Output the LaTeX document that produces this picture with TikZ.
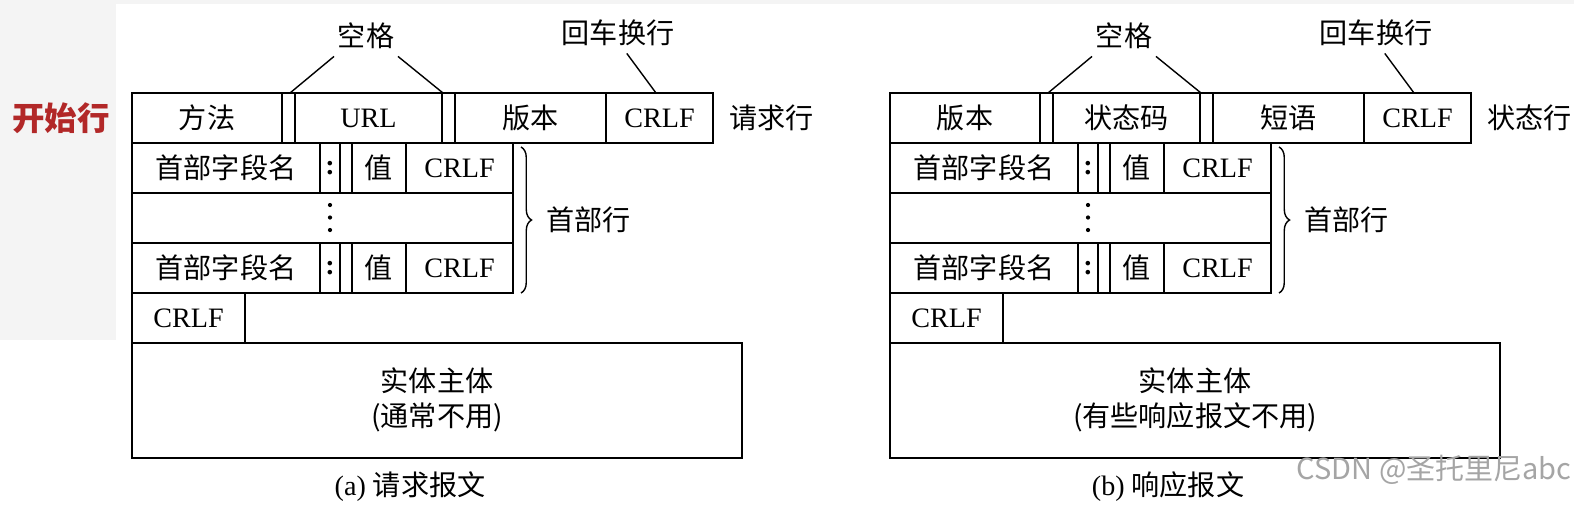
\documentclass[tikz,border=0pt]{standalone}
\usepackage{fontspec}
\setmainfont{Liberation Serif}
\newfontfamily\cjk{Noto Sans CJK SC}
\usetikzlibrary{decorations.pathreplacing}
\definecolor{startred}{RGB}{178,40,40}
\definecolor{bggray}{RGB}{244,244,244}
\definecolor{markgray}{RGB}{165,165,165}

\begin{document}
\begin{tikzpicture}[x=0.02cm,y=-0.02cm,
  outer/.style={line width=1.5pt},
  inner/.style={line width=0.9pt},
  lead/.style={line width=0.8pt},
  txt/.style={font=\fontsize{16}{20}\selectfont, inner sep=0pt},
  zh/.style={font=\fontsize{16}{20}\selectfont\cjk, inner sep=0pt}]
% background
\fill[bggray] (0,0) rectangle (116,340);
\fill[bggray] (0,0) rectangle (1574,4);
\useasboundingbox (0,0) rectangle (1574,505);
\node[txt, font=\fontsize{18.5}{22}\selectfont\cjk\bfseries, text=startred] (start) at (61,118) {开始行};

\foreach \pf/\dx/\fa/\fb/\fc/\side/\bodytxt/\capt in {
  a/0/{\cjk 方法}/{URL}/{\cjk 版本}/{请求行}/{通常不用}/{(a) {\cjk 请求报文}},
  b/758/{\cjk 版本}/{\cjk 状态码}/{\cjk 短语}/{状态行}/{有些响应报文不用}/{(b) {\cjk 响应报文}}}{
\begin{scope}[xshift=\dx*0.02cm]
% start line
\draw[outer] (132,93) rectangle (713,143);
\foreach \x in {282,295,442,455,606} \draw[inner] (\x,93) -- (\x,143);
\node[txt] (\pf-c1) at (207,118) {\fa};
\node[txt] (\pf-c2) at (368.5,118) {\fb};
\node[txt] (\pf-c3) at (530.5,118) {\fc};
\node[txt] (\pf-c4) at (659.5,118) {CRLF};
\node[zh, anchor=west] (\pf-side) at (729,118) {\side};
% space and CRLF callouts
\coordinate (\pf-g1) at (290,93);
\coordinate (\pf-g2) at (443,93);
\coordinate (\pf-g3) at (656,93);
\node[zh, inner xsep=2pt, inner ysep=4pt] (\pf-sp) at (366,36) {空格};
\node[zh, inner ysep=4pt] (\pf-cr) at (618,33) {回车换行};
\draw[lead] (\pf-sp.south west) -- (\pf-g1);
\draw[lead] (\pf-sp.south east) -- (\pf-g2);
\draw[lead] ([xshift=5pt]\pf-cr.south) -- (\pf-g3);
% header lines
\draw[outer] (132,143) rectangle (513,293);
\draw[outer] (132,193) -- (513,193) (132,243) -- (513,243);
\foreach \y/\n in {143/1,243/3}{
  \foreach \x in {320,340,352,406} \draw[inner] (\x,\y) -- (\x,\y+50);
  \node[zh] (\pf-name\n) at (226,\y+25) {首部字段名};
  \node[txt] (\pf-colon\n) at (330,\y+25) {\textbf{:}};
  \node[zh] (\pf-val\n) at (379,\y+25) {值};
  \node[txt] (\pf-crlf\n) at (459.5,\y+25) {CRLF};
}
\foreach \y in {205,217.5,230} \fill (330,\y) circle (1.2pt);
\draw[lead, decorate, decoration={brace, amplitude=6pt}] (521,147) -- (521,293);
\node[zh, anchor=west] (\pf-hd) at (546,220) {首部行};
% empty line and body
\draw[outer] (132,293) rectangle (245,343);
\node[txt] (\pf-end) at (188.5,318) {CRLF};
\draw[outer] (132,343) rectangle (742,458);
\node[zh, align=center] (\pf-body) at (437,400) {实体主体\\(\bodytxt)};
\node[txt] (\pf-cap) at (410,487) {\capt};
\end{scope}
}
\node[font=\fontsize{16.5}{20}\selectfont\cjk, text=markgray, anchor=east, inner sep=0pt] (mark) at (1572,470) {CSDN @圣托里尼abc};
\end{tikzpicture}
\end{document}
